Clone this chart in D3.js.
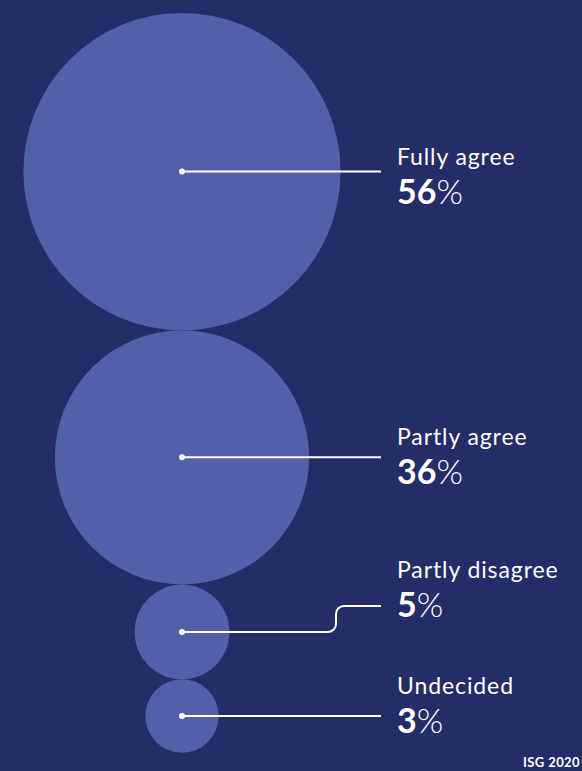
<!DOCTYPE html>
<html>
<head>
<meta charset="utf-8">
<script src="https://cdn.jsdelivr.net/npm/d3@7"></script>
<style>
  html, body { margin: 0; padding: 0; background: #242d68; }
  svg { display: block; }
</style>
</head>
<body>
<svg></svg>
<script>
// data
const categories = ["Fully agree", "Partly agree", "Partly disagree", "Undecided"]
const shares = [56, 36, 5, 3]
const source = "ISG 2020"

const
    svgWidth = 582,
    svgHeight = 771,
    TOP_PADDING = 13,
    CX = 182,
    LINE_END = 381,
    TEXT_X = 397,
    BG = "#242d68",
    BUBBLE = "#535fa9"

// layout tweaks per label (label baseline vs. leader line, leader bend)
const labelDy = [-7, -12, -28, -22]
const bendDy = [0, 0, -26, 0]

let svg = d3.select('svg')
    .attr('width', svgWidth)
    .attr('height', svgHeight)

svg.append('rect')
    .attr('width', svgWidth)
    .attr('height', svgHeight)
    .attr('fill', BG)

const r = d3.scaleSqrt().domain([0, 56]).range([0, 158.6])

// stack the bubbles top to bottom, touching
let y = TOP_PADDING
const items = shares.map((v, i) => {
    const rad = r(v)
    const cy = y + rad
    y += 2 * rad
    return { name: categories[i], value: v, r: rad, cy: cy, ly: cy + bendDy[i], i: i }
})

svg.append('g').selectAll('circle')
    .data(items)
    .join('circle')
    .attr('cx', CX)
    .attr('cy', d => d.cy)
    .attr('r', d => d.r)
    .attr('fill', BUBBLE)

// leader lines
function leader(d) {
    const p = d3.path()
    p.moveTo(CX, d.cy)
    if (d.ly === d.cy) {
        p.lineTo(LINE_END, d.cy)
    } else {
        const bx = 336, rr = 8
        p.lineTo(bx - rr, d.cy)
        p.arcTo(bx, d.cy, bx, d.cy - rr, rr)
        p.lineTo(bx, d.ly + rr)
        p.arcTo(bx, d.ly, bx + rr, d.ly, rr)
        p.lineTo(LINE_END, d.ly)
    }
    return p.toString()
}

svg.append('g').selectAll('path')
    .data(items)
    .join('path')
    .attr('d', leader)
    .attr('fill', 'none')
    .attr('stroke', '#fff')
    .attr('stroke-width', 2)

svg.append('g').selectAll('circle')
    .data(items)
    .join('circle')
    .attr('cx', CX)
    .attr('cy', d => d.cy)
    .attr('r', 3)
    .attr('fill', '#fff')

// labels
let labels = svg.append('g')
    .attr('font-family', 'Lato, sans-serif')
    .attr('fill', '#fff')
    .selectAll('g')
    .data(items)
    .join('g')

labels.append('text')
    .attr('x', TEXT_X)
    .attr('y', d => d.ly + labelDy[d.i])
    .attr('font-size', 23)
    .attr('letter-spacing', 0.9)
    .text(d => d.name)

let pct = labels.append('text')
    .attr('x', TEXT_X)
    .attr('y', d => d.ly + labelDy[d.i] + 39)
    .attr('font-size', 34)

pct.append('tspan')
    .attr('font-weight', 700)
    .text(d => d.value)
pct.append('tspan')
    .attr('font-weight', 300)
    .text('%')

svg.append('text')
    .attr('x', 580)
    .attr('y', 767)
    .attr('text-anchor', 'end')
    .attr('font-family', 'Lato, sans-serif')
    .attr('font-weight', 700)
    .attr('font-size', 13)
    .attr('letter-spacing', 0.4)
    .attr('fill', '#fff')
    .text(source)
</script>
</body>
</html>
